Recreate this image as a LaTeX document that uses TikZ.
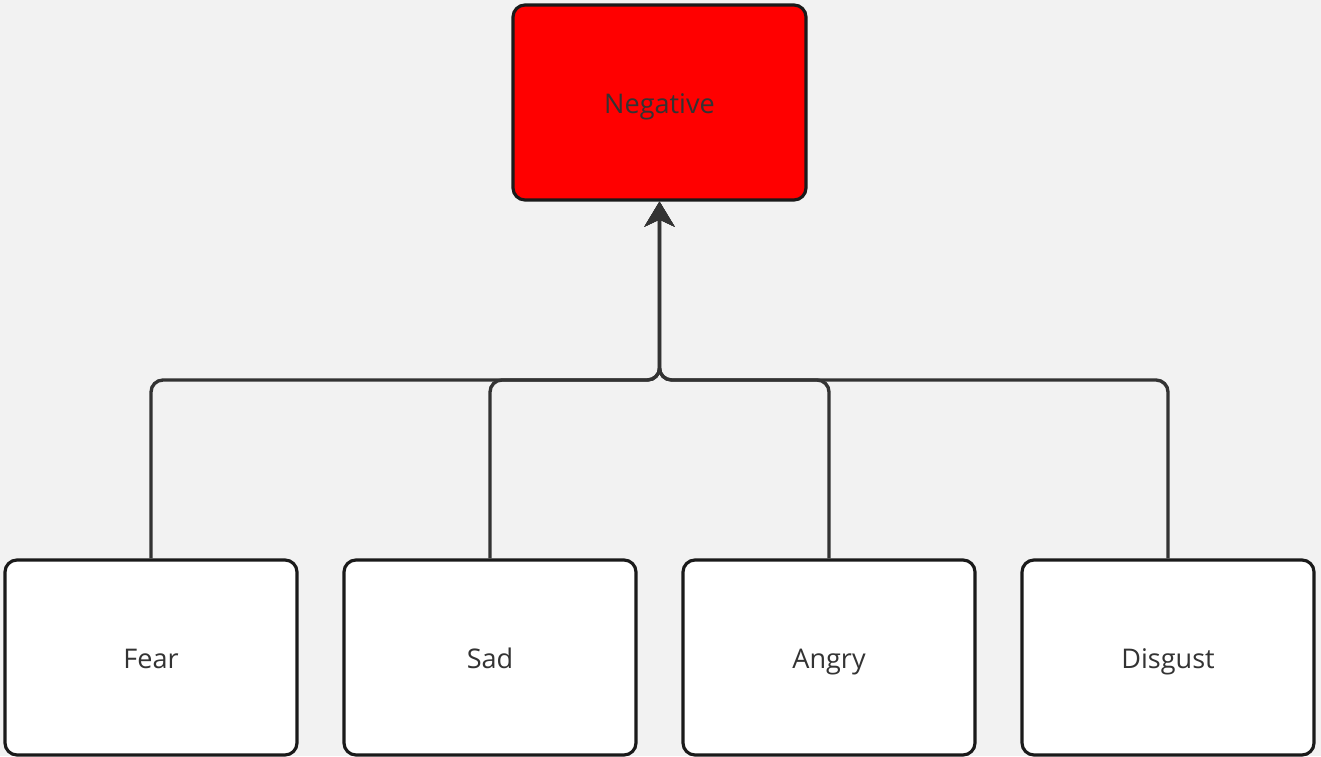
\documentclass[tikz,border=0pt]{standalone}
\usepackage{fontspec}
\setmainfont{Open Sans}
\usetikzlibrary{arrows.meta}
\definecolor{bgcol}{HTML}{F2F2F2}
\definecolor{linecol}{HTML}{333333}
\definecolor{edgecol}{HTML}{1A1A1A}
\begin{document}
\begin{tikzpicture}[
    emobox/.style={draw=edgecol, line width=1.8pt, rounded corners=0.24cm, fill=white,
        minimum width=5.84cm, minimum height=3.9cm, text=linecol, text height=12.6pt, text depth=0.1ex,
        font=\fontsize{15.4}{17}\selectfont},
    link/.style={draw=linecol, line width=1.9pt, rounded corners=0.24cm, -{Stealth[length=0.5cm,width=0.6cm,inset=0.14cm]}}
    ]
        \fill[bgcol] (0,0) rectangle (26.42,15.12); % background
        \useasboundingbox (0,0) rectangle (26.42,15.12);
        \node[emobox, fill=red, minimum width=5.86cm] (neg) at (13.19,13.07) {Negative}; % top box
        \node[emobox] (fear) at (3.02,1.97) {Fear};
        \node[emobox] (sad) at (9.80,1.97) {Sad};
        \node[emobox] (angry) at (16.58,1.97) {Angry};
        \node[emobox] (disgust) at (23.36,1.97) {Disgust};
        \coordinate (hub) at (13.19,7.52); % joint of the lines
        \foreach \n in {fear,sad,angry,disgust}
            \draw[link] (\n.north) |- (hub) -- (neg.south);
    \end{tikzpicture}
\end{document}
